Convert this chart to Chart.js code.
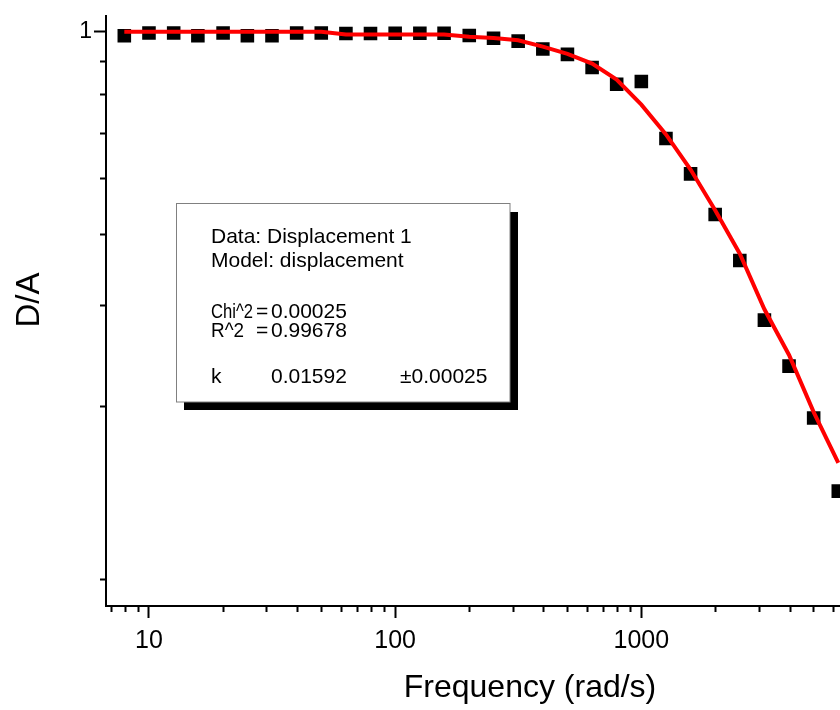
<!DOCTYPE html>
<html>
<head>
<meta charset="utf-8">
<script src="https://cdn.jsdelivr.net/npm/chart.js@4.4.1/dist/chart.umd.min.js"></script>
<style>
  html, body { margin: 0; padding: 0; background: #fff; overflow: hidden; }
  #wrap { width: 840px; height: 710px; }
</style>
</head>
<body>
<div id="wrap"><canvas id="chart" width="840" height="710"></canvas></div>
<script>
// frequency in rad/s, ten points per decade
const frequency = [7.94, 10, 12.6, 15.8, 20, 25.1, 31.6, 39.8, 50.1, 63.1,
  79.4, 100, 126, 158, 200, 251, 316, 398, 501, 631,
  794, 1000, 1259, 1585, 1995, 2512, 3162, 3981, 5012, 6310];

// measured D/A (black squares)
const measured = [0.984, 0.995, 0.995, 0.984, 0.995, 0.984, 0.984, 0.995, 0.995, 0.993,
  0.993, 0.994, 0.994, 0.994, 0.985, 0.974, 0.963, 0.933, 0.913, 0.866,
  0.810, 0.819, 0.651, 0.565, 0.480, 0.399, 0.314, 0.261, 0.212, 0.158];

// fitted curve (red line)
const fitted = [1.0, 1.0, 1.0, 1.0, 1.0, 1.0, 1.0, 1.0, 1.0, 0.989,
  0.989, 0.989, 0.989, 0.989, 0.980, 0.975, 0.966, 0.942, 0.915, 0.880,
  0.825, 0.746, 0.662, 0.575, 0.488, 0.410, 0.328, 0.273, 0.217, 0.177];

const xMajorTicks = [10, 100, 1000];
const xMinorTicks = [7, 8, 9, 20, 30, 40, 50, 60, 70, 80, 90,
  200, 300, 400, 500, 600, 700, 800, 900, 2000, 3000, 4000, 5000, 6000];
const yMajorTicks = [1];
const yMinorTicks = [0.889, 0.778, 0.667, 0.556, 0.444, 0.333, 0.222, 0.111];

const fontFamily = "'Liberation Sans', Arial, sans-serif";

// text of the fit report; w squeezes a piece to the width it has in the original
const fitBox = [
  { text: 'Data: Displacement 1', x: 211, y: 243 },
  { text: 'Model: displacement', x: 211, y: 267 },
  { text: 'Chi^2', x: 211, y: 318, w: 42 }, { text: '=', x: 256, y: 318 }, { text: '0.00025', x: 271, y: 318 },
  { text: 'R^2', x: 211, y: 337, w: 33 }, { text: '=', x: 256, y: 337 }, { text: '0.99678', x: 271, y: 337 },
  { text: 'k', x: 211, y: 383 }, { text: '0.01592', x: 271, y: 383 }, { text: '\u00b10.00025', x: 400, y: 383 }
];

const extras = {
  id: 'extras',
  afterDraw(chart) {
    const { ctx, scales: { x, y } } = chart;
    ctx.save();

    // minor ticks, shorter than the major ones
    ctx.strokeStyle = '#000';
    ctx.lineWidth = 2;
    ctx.beginPath();
    xMinorTicks.forEach(v => {
      const px = Math.round(x.getPixelForValue(v)) + 0.5;
      ctx.moveTo(px, x.top);
      ctx.lineTo(px, x.top + 6);
    });
    yMinorTicks.forEach(v => {
      const py = Math.round(y.getPixelForValue(v)) + 0.5;
      ctx.moveTo(y.right, py);
      ctx.lineTo(y.right - 6, py);
    });
    ctx.stroke();

    // axis titles
    ctx.fillStyle = '#000';
    ctx.font = '32px ' + fontFamily;
    ctx.textAlign = 'center';
    ctx.textBaseline = 'middle';
    ctx.fillText('Frequency (rad/s)', 530, 688);
    ctx.save();
    ctx.translate(30, 300);
    ctx.rotate(-Math.PI / 2);
    ctx.font = '33px ' + fontFamily;
    ctx.fillText('D/A', 0, 0);
    ctx.restore();

    // fit results box with shadow
    ctx.fillStyle = '#000';
    ctx.fillRect(184, 212, 334, 198);
    ctx.fillStyle = '#fff';
    ctx.fillRect(176.5, 203.5, 333.5, 198.5);
    ctx.strokeStyle = '#808080';
    ctx.lineWidth = 1;
    ctx.strokeRect(176.5, 203.5, 333.5, 198.5);

    ctx.fillStyle = '#000';
    ctx.font = '21px ' + fontFamily;
    ctx.textAlign = 'left';
    ctx.textBaseline = 'alphabetic';
    fitBox.forEach(t => {
      if (t.w) ctx.fillText(t.text, t.x, t.y, t.w);
      else ctx.fillText(t.text, t.x, t.y);
    });

    ctx.restore();
  }
};

new Chart(document.getElementById('chart'), {
  type: 'scatter',
  data: {
    datasets: [
      {
        label: 'fit',
        data: frequency.map((f, i) => ({ x: f, y: fitted[i] })),
        showLine: true,
        borderColor: '#ff0000',
        borderWidth: 4,
        pointRadius: 0,
        tension: 0,
        order: 0
      },
      {
        label: 'Displacement 1',
        data: frequency.map((f, i) => ({ x: f, y: measured[i] })),
        pointStyle: 'rect',
        pointRadius: 9.6,
        pointBackgroundColor: '#000',
        pointBorderWidth: 0,
        order: 1
      }
    ]
  },
  options: {
    responsive: false,
    animation: false,
    layout: { autoPadding: false, padding: { top: 14, right: 0, left: 0, bottom: 0 } },
    plugins: {
      legend: { display: false },
      tooltip: { enabled: false }
    },
    scales: {
      x: {
        type: 'logarithmic',
        min: 6.69,
        max: 6412,
        afterBuildTicks: s => { s.ticks = xMajorTicks.map(v => ({ value: v })); },
        afterFit: s => { s.height = 104; },
        border: { display: true, color: '#000', width: 2 },
        grid: { drawOnChartArea: false, tickLength: 12, tickWidth: 2, tickColor: '#000' },
        ticks: {
          color: '#000',
          padding: 8,
          maxRotation: 0,
          font: { family: fontFamily, size: 25 },
          callback: v => String(v)
        }
      },
      y: {
        type: 'logarithmic',
        min: 0.0996,
        max: 1.066,
        afterBuildTicks: s => { s.ticks = yMajorTicks.map(v => ({ value: v })); },
        afterFit: s => { s.width = 106; },
        border: { display: true, color: '#000', width: 2 },
        grid: { drawOnChartArea: false, tickLength: 12, tickWidth: 2, tickColor: '#000' },
        ticks: {
          color: '#000',
          padding: 2,
          font: { family: fontFamily, size: 23 },
          callback: v => String(v)
        }
      }
    }
  },
  plugins: [extras]
});
</script>
</body>
</html>
